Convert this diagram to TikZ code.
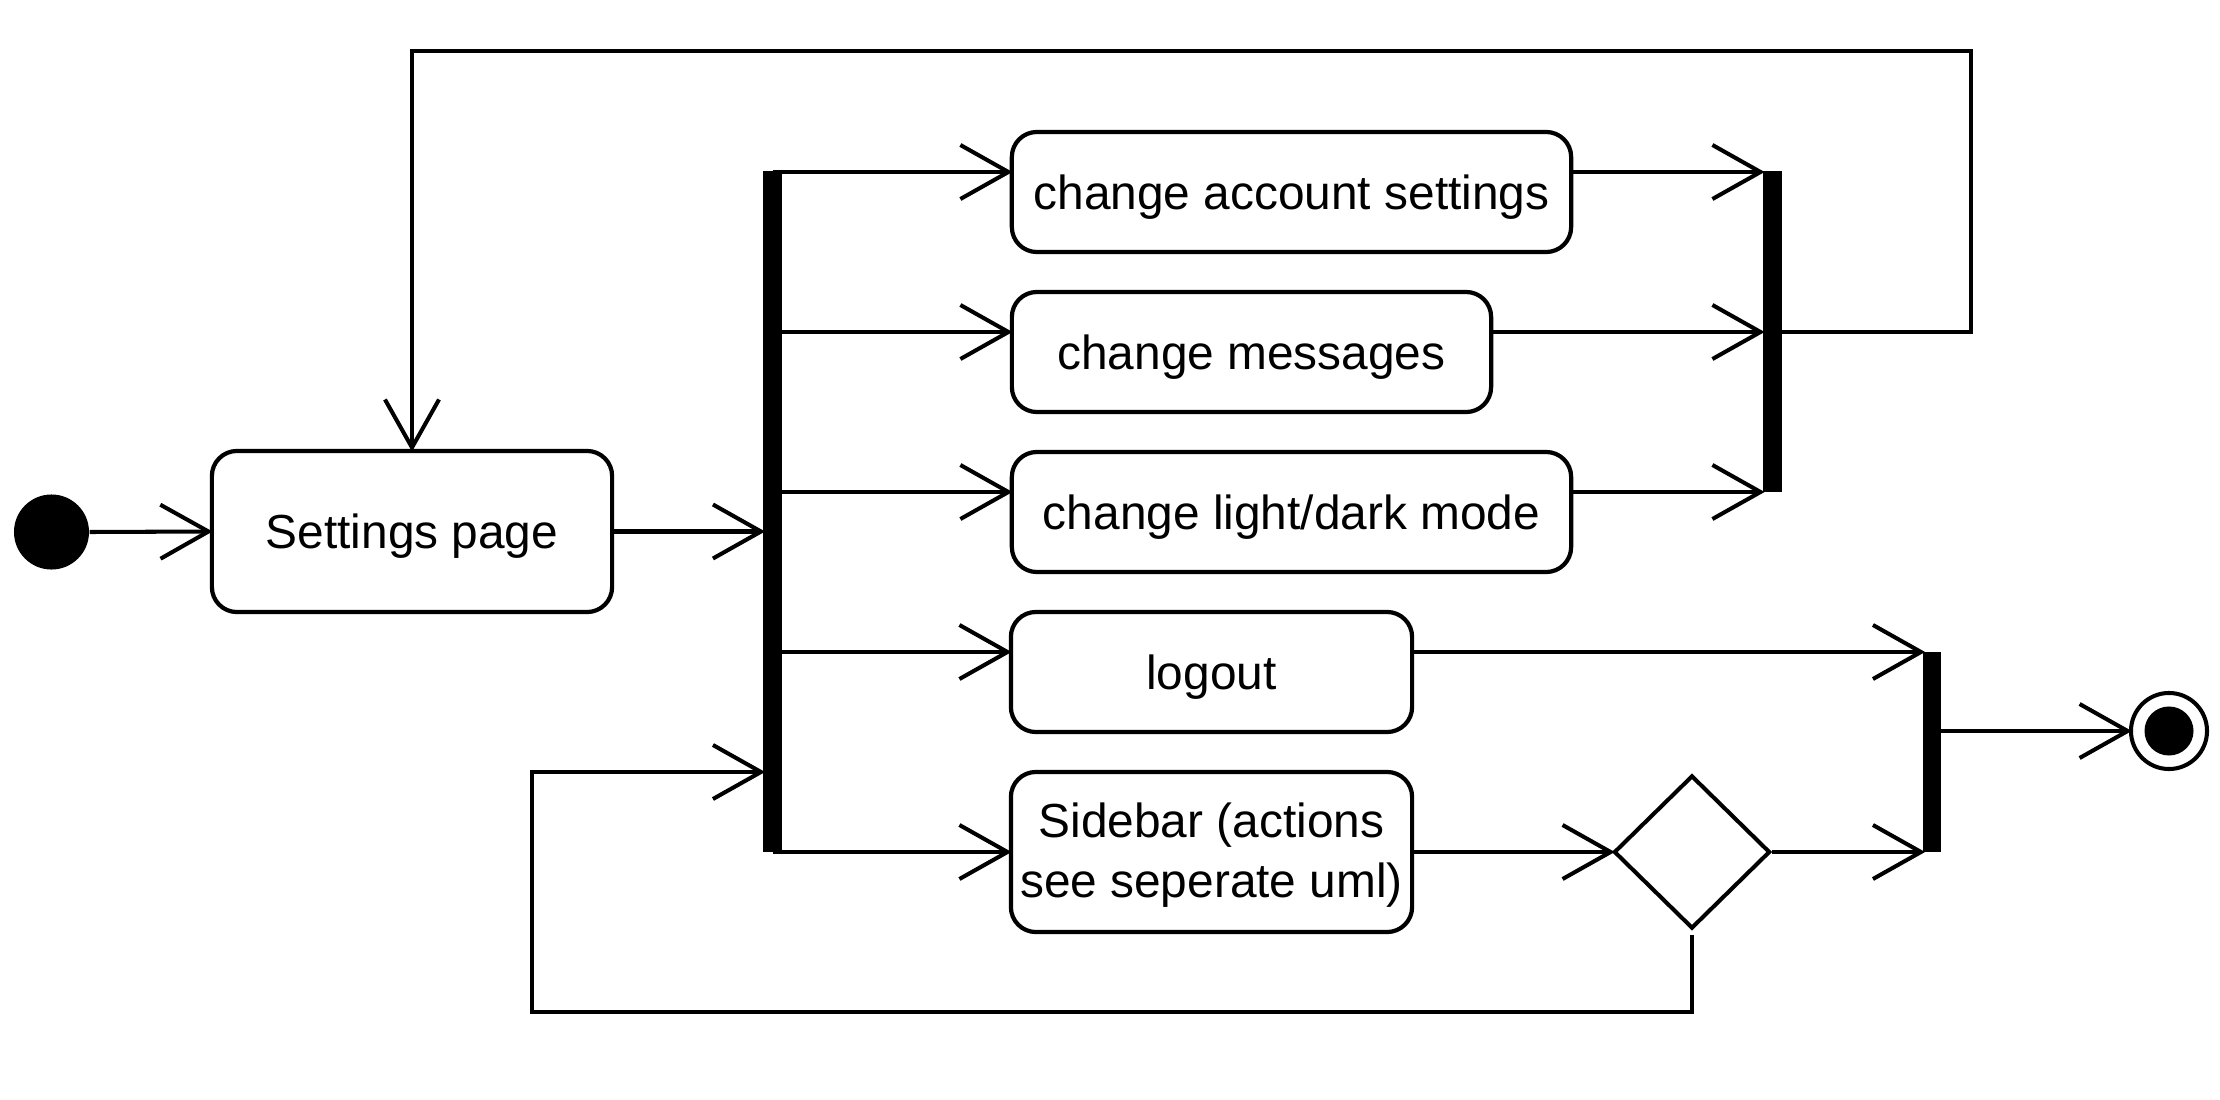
\documentclass[tikz,border=0pt]{standalone}
\usepackage{fontspec}
\setmainfont{Liberation Sans}
\usetikzlibrary{arrows.meta,shapes.geometric,calc}
\begin{document}
\begin{tikzpicture}[x=0.01cm,y=-0.01cm,
  every node/.style={font=\fontsize{13.6}{17}\selectfont},
  act/.style={draw,rounded corners=0.25cm,line width=1.2pt,inner sep=0pt,align=center,text depth=0pt},
  bar/.style={fill=black,inner sep=0pt,minimum width=0.19cm},
  arr/.style={-{Straight Barb[length=0.48cm,width=0.54cm]},line width=1.15pt,shorten >=-0.8pt},
  ln/.style={line width=1.15pt}]
\useasboundingbox (0,0) rectangle (2220,1100);
% helper row coordinates
\coordinate (r1) at (0,172);
\coordinate (r2) at (0,332);
\coordinate (r3) at (0,492);
\coordinate (r4) at (0,652);
\coordinate (r5) at (0,852);
\coordinate (r6) at (0,772);
\coordinate (t1) at (1971,51);
\coordinate (b1) at (532,1012);
% nodes
\node[circle,fill=black,minimum size=0.75cm,inner sep=0pt] (init) at (51.5,532) {};
\node[act,minimum width=4cm,minimum height=1.61cm] (set) at (412,531.5) {Settings page};
\node[bar,minimum height=6.81cm] (bar1) at (772.5,511.5) {};
\node[act,minimum width=5.59cm,minimum height=1.2cm] (ac) at (1291.5,192) {change account settings};
\node[act,minimum width=4.79cm,minimum height=1.2cm] (msg) at (1251.5,352) {change messages};
\node[act,minimum width=5.59cm,minimum height=1.2cm] (ld) at (1291.5,512) {change light/dark mode};
\node[act,minimum width=4.01cm,minimum height=1.2cm] (lo) at (1211.5,672) {logout};
\node[act,minimum width=4.01cm,minimum height=1.6cm,text depth=0.04cm] (sb) at (1211.5,852) {Sidebar (actions\\see seperate uml)};
\node[bar,minimum height=3.21cm] (bar2) at (1772,331.5) {};
\node[diamond,draw,line width=1.15pt,inner sep=0pt,minimum width=1.56cm,minimum height=1.53cm] (dia) at (1692,852) {};
\node[bar,minimum width=0.18cm,minimum height=2cm] (bar3) at (1932,752) {};
\node[circle,draw,line width=1.15pt,minimum size=0.76cm,inner sep=0pt] (fin) at (2169,731) {};
\node[circle,fill=black,minimum size=0.49cm,inner sep=0pt] (fininner) at (fin.center) {};
% connectors
\draw[arr] (init.east) -- (set.west);
\draw[arr] (set.east) -- (set.east -| bar1.west);
\draw[arr] (bar1.center |- r1) -- (ac.west |- r1);
\draw[arr] (bar1.center |- r2) -- (msg.west |- r2);
\draw[arr] (bar1.center |- r3) -- (ld.west |- r3);
\draw[arr] (bar1.center |- r4) -- (lo.west |- r4);
\draw[arr] (bar1.center |- r5) -- (sb.west);
\draw[arr] (ac.east |- r1) -- (bar2.west |- r1);
\draw[arr] (msg.east |- r2) -- (bar2.west |- r2);
\draw[arr] (ld.east |- r3) -- (bar2.west |- r3);
\draw[arr] (bar2.center |- r2) -| (t1) -| (set.north);
\draw[arr] (lo.east |- r4) -- (bar3.west |- r4);
\draw[arr] (sb.east) -- (dia.west);
\draw[arr] (dia.east) -- (bar3.west |- r5);
\draw[arr] (bar3.center |- fin.west) -- (fin.west);
\draw[arr] ($(dia.south)+(0,4)$) |- (b1) |- (bar1.west |- r6);
\end{tikzpicture}
\end{document}
